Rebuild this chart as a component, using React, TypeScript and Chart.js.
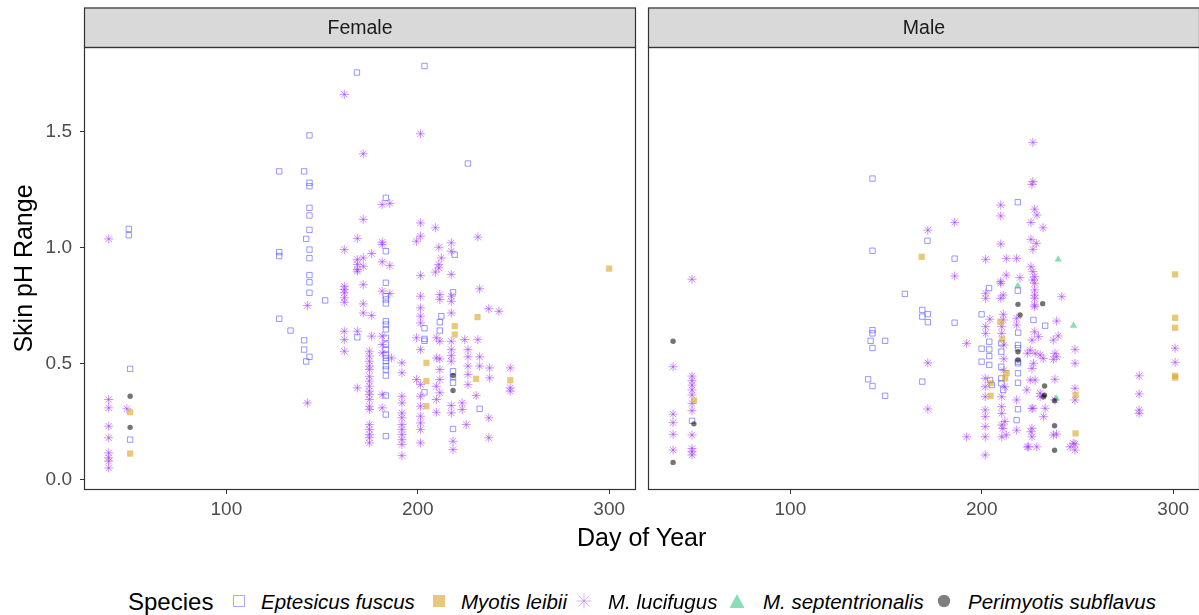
import React, { useEffect, useRef } from "react";
import { Chart, registerables } from "chart.js";

Chart.register(...registerables);

// ---------- axes / labels ----------
const X_TICKS = [100, 200, 300];
const Y_TICKS = [0, 0.5, 1.0, 1.5];
const X_MIN = 25.6;
const X_MAX = 314;
const Y_MIN = -0.045;
const Y_MAX = 1.864;
const PANELS = ["Female", "Male"];
const SPECIES = ["Eptesicus fuscus", "Myotis leibii", "M. lucifugus", "M. septentrionalis", "Perimyotis subflavus"];
const X_TITLE = "Day of Year";
const Y_TITLE = "Skin pH Range";
const LEGEND_TITLE = "Species";

type P = [number, number][]; // [day of year, skin pH range]

// ---------- Female ----------
const femaleFuscus: P = [
  [49, 1.08], [49, 1.053], [49.7, 0.477], [49.7, 0.172],
  [127.6, 1.328], [127.6, 0.98], [127.6, 0.963], [127.6, 0.693], [133.5, 0.642],
  [140.6, 1.328], [140.6, 0.6], [140.6, 0.56], [141.7, 1.037], [141.7, 0.509],
  [143.4, 1.483], [143.4, 1.279], [143.4, 1.264], [143.4, 1.171], [143.4, 1.138], [143.4, 1.076],
  [143.4, 0.991], [143.4, 0.954], [143.4, 0.881], [143.4, 0.85], [143.4, 0.805], [143.4, 0.529],
  [151.6, 0.772], [168.2, 1.754], [168.4, 0.613],
  [183.3, 1.214], [183.3, 0.984], [183.3, 0.848], [183.3, 0.79], [183.3, 0.776], [183.3, 0.759],
  [183.3, 0.682], [183.3, 0.668], [183.3, 0.647], [183.3, 0.611], [183.3, 0.582], [183.3, 0.56],
  [183.3, 0.539], [183.3, 0.524], [183.3, 0.51], [183.3, 0.489], [183.3, 0.474], [183.3, 0.448],
  [183.3, 0.362], [183.3, 0.28], [183.3, 0.187],
  [203.5, 1.782], [203.5, 0.652], [203.5, 0.606], [203.5, 0.598], [203.5, 0.376],
  [211.5, 0.678], [211.5, 0.642], [212.3, 0.704],
  [218.4, 0.807], [218.4, 0.467], [218.4, 0.443], [218.4, 0.417], [218.4, 0.218], [219.3, 0.969],
  [226.2, 1.362], [232.3, 0.305],
];
const femaleLeibii: P = [
  [49.7, 0.29], [49.7, 0.112], [204.5, 0.503], [204.5, 0.424], [204.5, 0.316], [219.3, 0.661],
  [219.3, 0.625], [230.4, 0.434], [231.2, 0.7], [248.3, 0.428], [300, 0.909],
];
const femaleLucifugus: P = [
  [38.5, 1.037], [38.5, 0.345], [38.5, 0.309], [38.5, 0.23], [38.5, 0.18], [38.5, 0.115], [38.5, 0.094],
  [38.5, 0.079], [38.5, 0.05], [48, 0.305],
  [142.3, 0.75], [142.3, 0.33],
  [161.6, 1.66], [161.6, 0.991], [161.6, 0.833], [161.6, 0.819], [161.6, 0.805], [161.6, 0.783],
  [161.6, 0.764], [161.6, 0.639], [161.6, 0.603], [161.6, 0.553],
  [168.4, 1.039], [168.4, 0.948], [168.4, 0.927], [168.4, 0.905], [168.4, 0.898], [168.4, 0.639], [168.4, 0.395],
  [171.5, 1.404], [171.5, 1.121], [171.5, 0.955], [171.5, 0.919], [171.5, 0.84], [171.5, 0.757], [171.5, 0.718],
  [174.7, 0.553], [174.7, 0.532], [174.7, 0.51], [174.7, 0.489], [174.7, 0.474], [174.7, 0.445],
  [174.7, 0.424], [174.7, 0.402], [174.7, 0.381], [174.7, 0.366], [174.7, 0.345], [174.7, 0.316],
  [174.7, 0.302], [174.7, 0.237], [174.7, 0.216], [174.7, 0.194], [174.7, 0.18], [174.7, 0.158],
  [175.9, 0.974], [175.9, 0.707], [175.9, 0.618],
  [181.4, 1.185], [181.4, 1.023], [181.4, 1.013], [181.4, 0.938], [181.4, 0.812], [181.4, 0.618],
  [181.4, 0.582], [181.4, 0.546], [181.4, 0.366], [181.4, 0.309],
  [185.4, 1.19], [185.4, 0.922], [185.4, 0.802], [186.3, 0.524],
  [191.7, 0.503], [191.7, 0.46], [191.7, 0.359], [191.7, 0.33], [191.7, 0.287], [191.7, 0.266],
  [191.7, 0.237], [191.7, 0.216], [191.7, 0.194], [191.7, 0.172], [191.7, 0.151], [191.7, 0.103],
  [199.3, 1.027], [199.3, 0.611], [199.3, 0.431],
  [201.4, 1.49], [201.4, 1.106], [201.4, 1.049], [201.4, 0.879], [201.4, 0.79], [201.4, 0.74],
  [201.4, 0.704], [201.4, 0.675], [201.4, 0.56], [201.4, 0.409], [201.4, 0.359], [201.4, 0.316],
  [201.4, 0.273], [201.4, 0.244], [201.4, 0.216], [201.4, 0.158],
  [209.2, 1.085], [209.2, 0.894], [209.7, 0.611], [209.7, 0.524], [209.7, 0.402], [209.7, 0.345], [209.7, 0.29],
  [211, 1.001], [211, 0.927], [211, 0.912],
  [211.5, 0.797], [211.5, 0.776], [211.5, 0.596], [211.5, 0.52], [211.5, 0.474], [211.5, 0.431], [211.5, 0.374],
  [212.3, 0.955],
  [217.5, 1.02], [217.5, 0.984], [217.5, 0.884], [217.5, 0.79], [217.5, 0.768], [217.5, 0.718],
  [217.5, 0.596], [217.5, 0.56], [217.5, 0.534], [217.5, 0.51], [217.5, 0.319], [217.5, 0.287],
  [218.4, 0.165], [218.4, 0.129],
  [223.2, 0.33], [223.2, 0.302], [224.5, 0.603], [225.3, 0.237],
  [226.2, 0.56], [226.2, 0.529], [226.2, 0.489], [226.2, 0.453], [226.2, 0.409],
  [230.5, 0.362], [231.4, 1.045], [231.4, 0.603], [232.3, 0.822], [232.3, 0.529], [232.3, 0.489],
  [237.1, 0.736], [237.1, 0.266], [237.1, 0.18], [237.5, 0.481], [237.5, 0.438], [242.4, 0.725],
  [248.3, 0.481], [248.3, 0.395], [248.3, 0.381],
];
const femaleSeptentrionalis: P = [];
const femaleSubflavus: P = [[49.7, 0.359], [49.7, 0.225], [218.4, 0.448], [218.4, 0.384]];

// ---------- Male ----------
const maleFuscus: P = [
  [48.6, 0.253], [140.6, 0.432], [141.9, 0.598], [142.9, 1.297], [142.9, 0.986], [142.9, 0.644],
  [142.9, 0.63], [142.9, 0.567], [142.9, 0.403], [149.5, 0.598], [149.5, 0.361], [159.8, 0.8],
  [168.9, 0.731], [168.9, 0.702], [168.9, 0.422], [171.8, 0.713], [171.8, 0.678], [171.6, 1.029],
  [185.8, 0.952], [185.8, 0.676],
  [199.9, 0.712], [199.9, 0.564], [199.9, 0.508], [203.8, 0.825], [203.9, 0.594], [203.9, 0.561],
  [203.9, 0.532], [203.9, 0.494], [204.3, 0.429], [205.2, 0.407],
  [210.2, 0.587], [210.2, 0.551], [210.2, 0.486], [210.2, 0.436], [210.2, 0.415], [211.2, 0.386],
  [218.8, 1.195], [218.8, 0.814], [219, 0.633], [218.9, 0.58], [218.9, 0.566], [218.9, 0.508],
  [218.9, 0.501], [218.9, 0.458], [218.9, 0.417], [218.9, 0.303], [218.2, 0.256],
  [227, 0.688], [233.1, 0.663],
];
const maleLeibii: P = [
  [49.6, 0.34], [168.6, 0.96], [204.6, 0.415], [204.6, 0.361], [209.7, 0.68], [210.7, 0.604],
  [212.2, 0.436], [213, 0.46], [249, 0.364], [249, 0.199],
  [301, 0.884], [301, 0.697], [301, 0.654], [301, 0.447], [301, 0.439],
];
const maleLucifugus: P = [
  [38.7, 0.486], [38.7, 0.282], [38.7, 0.245], [38.7, 0.195], [38.7, 0.127],
  [48.6, 0.863], [48.6, 0.446], [48.6, 0.426], [48.6, 0.407], [48.6, 0.386], [48.6, 0.364],
  [48.6, 0.328], [48.6, 0.297], [48.6, 0.192], [48.6, 0.134], [48.6, 0.12], [48.6, 0.106],
  [171.8, 1.075], [171.8, 0.503], [171.8, 0.304], [185.8, 1.108], [185.8, 0.877],
  [192.1, 0.587], [192.1, 0.184],
  [202, 0.949], [202, 0.803], [202, 0.781], [202, 0.659], [202, 0.63], [204.2, 0.691],
  [201.8, 0.436], [201.8, 0.4], [201.8, 0.357], [201.8, 0.3], [201.8, 0.271], [201.8, 0.228],
  [201.8, 0.184], [201.8, 0.106],
  [209.9, 1.183], [209.9, 1.136], [209.9, 1.015], [209.9, 0.853], [209.9, 0.846], [209.9, 0.781],
  [210.4, 0.659], [210.4, 0.63], [210.4, 0.357], [210.4, 0.314], [210.4, 0.285], [210.4, 0.235], [210.4, 0.184],
  [211.2, 0.795], [211.2, 0.712], [211.2, 0.688], [211.5, 0.58], [211.5, 0.52], [211.5, 0.47],
  [212, 0.4], [212, 0.25], [211, 0.22],
  [212.8, 0.953], [212.8, 0.881], [212.8, 0.192],
  [218.2, 0.953], [218.2, 0.695], [218.2, 0.666], [218.2, 0.343], [218.2, 0.213], [219.9, 0.87],
  [223.8, 0.544], [223.8, 0.141], [225.7, 1.108], [225.7, 1.035], [225.7, 0.917], [225.7, 0.206],
  [226.7, 1.453], [226.7, 1.284], [226.2, 1.272], [226.7, 0.992], [226.7, 0.896], [226.7, 0.86], [226.7, 0.307],
  [227.6, 1.165], [228.8, 1.14], [228.5, 1.018], [227.6, 0.874], [227.6, 0.846], [227.6, 0.817],
  [227.6, 0.795], [227.6, 0.781], [227.6, 0.752], [227.6, 0.745], [227.6, 0.637], [226.2, 0.601],
  [225.3, 0.558], [227.9, 0.544], [227, 0.501], [226.2, 0.479], [225.3, 0.429], [227.9, 0.429],
  [223.5, 0.386], [226.2, 0.307], [226.2, 0.221], [226.2, 0.184], [224.4, 0.141], [228.7, 0.141],
  [229.6, 0.616], [230.5, 0.537], [230.5, 0.372], [230.5, 0.357],
  [232, 1.085], [232.1, 0.522], [232.3, 0.271], [233.1, 0.307],
  [239.1, 0.683], [239.9, 0.619], [237.4, 0.601], [238.2, 0.544], [239.1, 0.529], [237.4, 0.518],
  [238.2, 0.432], [238.2, 0.343], [239, 0.196], [237.4, 0.192],
  [241.8, 0.788],
  [248.7, 0.561], [248.7, 0.501], [248.7, 0.393], [248.7, 0.343], [247.8, 0.156], [248.7, 0.153],
  [246.1, 0.141], [248.7, 0.127],
  [282.2, 0.447], [282.2, 0.369], [282.2, 0.3], [282.2, 0.285],
  [301, 0.566], [301, 0.505],
];
const maleSeptentrionalis: P = [[218.8, 0.834], [238.9, 0.35], [239.9, 0.949], [247.9, 0.663]];
const maleSubflavus: P = [
  [38.7, 0.596], [38.7, 0.074], [49.6, 0.24], [218.9, 0.755], [220, 0.709], [218.9, 0.551],
  [218.9, 0.515], [231.8, 0.758], [232.8, 0.403], [232.8, 0.364], [232.3, 0.357],
  [238, 0.34], [238, 0.232], [238, 0.126],
];

const FEMALE_GROUPS = [femaleFuscus, femaleLeibii, femaleLucifugus, femaleSeptentrionalis, femaleSubflavus];
const MALE_GROUPS = [maleFuscus, maleLeibii, maleLucifugus, maleSeptentrionalis, maleSubflavus];

// ---------- styles ----------
const FONT = '"Liberation Sans", Arial, sans-serif';
const STYLES = [
  { pointStyle: "rect", radius: 3.8, bg: "rgba(0,0,0,0)", border: "rgba(70,70,255,0.55)", bw: 1, order: 2 },
  { pointStyle: "rect", radius: 4.4, bg: "rgba(218,165,32,0.6)", border: "rgba(0,0,0,0)", bw: 0, order: 1 },
  { pointStyle: "star", radius: 4.5, bg: "rgba(0,0,0,0)", border: "rgba(165,55,255,0.55)", bw: 1, order: 4 },
  { pointStyle: "triangle", radius: 4.2, bg: "rgba(60,200,130,0.6)", border: "rgba(0,0,0,0)", bw: 0, order: 3 },
  { pointStyle: "circle", radius: 2.7, bg: "rgba(0,0,0,0.55)", border: "rgba(0,0,0,0)", bw: 0, order: 0 },
];

const panelPlugin = {
  id: "panelFrame",
  afterDraw(chart: any, _args: any, opts: any) {
    const { ctx, chartArea: a } = chart;
    const st = opts.stripTop;
    ctx.save();
    ctx.fillStyle = "#D9D9D9";
    ctx.fillRect(a.left, st, a.right - a.left, a.top - st);
    ctx.strokeStyle = "#333333";
    ctx.lineWidth = 1.2;
    ctx.strokeRect(a.left + 0.5, st + 0.5, a.right - a.left - 1, a.top - st);
    ctx.strokeRect(a.left + 0.5, a.top + 0.5, a.right - a.left - 1, a.bottom - a.top - 1);
    ctx.fillStyle = "#1A1A1A";
    ctx.font = `19.5px ${FONT}`;
    ctx.textAlign = "center";
    ctx.textBaseline = "middle";
    ctx.fillText(opts.label, (a.left + a.right) / 2, (st + a.top) / 2 + 1);
    ctx.restore();
  },
};

function makeConfig(groups: P[], label: string, showY: boolean): any {
  const datasets = SPECIES.map((name, i) => ({
    label: name,
    data: groups[i].map(([x, y]) => ({ x, y })),
    pointStyle: STYLES[i].pointStyle,
    pointRadius: STYLES[i].radius,
    pointBackgroundColor: STYLES[i].bg,
    pointBorderColor: STYLES[i].border,
    pointBorderWidth: STYLES[i].bw,
    order: STYLES[i].order,
    showLine: false,
  }));
  const tickGrid = { display: true, drawOnChartArea: false, drawTicks: true, tickLength: 4, color: "#333333", lineWidth: 1 };
  return {
    type: "scatter",
    data: { datasets },
    plugins: [panelPlugin],
    options: {
      animation: false,
      responsive: false,
      events: [],
      layout: { padding: { top: 47, right: 10, left: 0, bottom: 0 } },
      plugins: {
        legend: { display: false },
        tooltip: { enabled: false },
        panelFrame: { label, stripTop: 7.5 },
      },
      scales: {
        x: {
          type: "linear",
          min: X_MIN,
          max: X_MAX,
          afterBuildTicks: (s: any) => { s.ticks = X_TICKS.map((v) => ({ value: v })); },
          afterFit: (s: any) => { s.height = 70; },
          grid: tickGrid,
          border: { display: false },
          ticks: { color: "#4D4D4D", font: { family: FONT, size: 19 }, padding: 4, maxRotation: 0, callback: (v: any) => String(v) },
        },
        y: {
          type: "linear",
          display: showY,
          min: Y_MIN,
          max: Y_MAX,
          afterBuildTicks: (s: any) => { s.ticks = Y_TICKS.map((v) => ({ value: v })); },
          afterFit: (s: any) => { s.width = 84; },
          grid: tickGrid,
          border: { display: false },
          ticks: { color: "#4D4D4D", font: { family: FONT, size: 19 }, padding: 8, callback: (v: any) => Number(v).toFixed(1) },
          title: { display: true, text: Y_TITLE, color: "#000000", font: { family: FONT, size: 25 }, padding: { top: 10, bottom: 0 } },
        },
      },
    },
  };
}

function LegendSymbol({ i }: { i: number }) {
  if (i === 0)
    return (
      <svg width="12" height="12"><rect x="0.5" y="0.5" width="11" height="11" fill="none" stroke="rgba(70,70,255,0.45)" strokeWidth="1" /></svg>
    );
  if (i === 1)
    return <svg width="12" height="12"><rect x="0" y="0" width="12" height="12" fill="rgba(218,165,32,0.6)" /></svg>;
  if (i === 2)
    return (
      <svg width="16" height="16" stroke="rgba(165,60,255,0.4)" strokeWidth="1">
        <line x1="8" y1="0.5" x2="8" y2="15.5" />
        <line x1="0.5" y1="8" x2="15.5" y2="8" />
        <line x1="2.7" y1="2.7" x2="13.3" y2="13.3" />
        <line x1="2.7" y1="13.3" x2="13.3" y2="2.7" />
      </svg>
    );
  if (i === 3)
    return <svg width="15" height="14"><polygon points="7.5,0 15,14 0,14" fill="rgba(60,200,130,0.6)" /></svg>;
  return <svg width="13" height="13"><circle cx="6.5" cy="6.5" r="6.2" fill="rgba(0,0,0,0.5)" /></svg>;
}

const LEGEND_SYMBOL_X = [238.5, 439, 584, 737, 944];
const LEGEND_TEXT_X = [261, 461, 608, 763, 968];

export default function App() {
  const fRef = useRef<HTMLCanvasElement>(null);
  const mRef = useRef<HTMLCanvasElement>(null);

  useEffect(() => {
    const f = new Chart(fRef.current as HTMLCanvasElement, makeConfig(FEMALE_GROUPS, PANELS[0], true));
    const m = new Chart(mRef.current as HTMLCanvasElement, makeConfig(MALE_GROUPS, PANELS[1], false));
    return () => {
      f.destroy();
      m.destroy();
    };
  }, []);

  const legendY = 601.7;
  return (
    <div style={{ position: "absolute", left: 0, top: 0, width: 1199, height: 615, overflow: "hidden", background: "#fff", fontFamily: FONT }}>
      <canvas ref={fRef} width={646} height={560} style={{ position: "absolute", left: 0, top: 0, width: 646, height: 560 }} />
      <canvas ref={mRef} width={646} height={560} style={{ position: "absolute", left: 564, top: 0, width: 646, height: 560 }} />
      <div style={{ position: "absolute", left: 641.7, top: 537 - 0.49 * 25, transform: "translateX(-50%)", fontSize: 25, lineHeight: "25px", whiteSpace: "nowrap", color: "#000" }}>
        {X_TITLE}
      </div>
      <div style={{ position: "absolute", left: 128, top: legendY - 0.49 * 24, fontSize: 24, lineHeight: "24px", whiteSpace: "nowrap", color: "#000" }}>
        {LEGEND_TITLE}
      </div>
      {SPECIES.map((name, i) => (
        <React.Fragment key={name}>
          <div style={{ position: "absolute", left: LEGEND_SYMBOL_X[i], top: legendY - 1, transform: "translate(-50%, -50%)", lineHeight: 0 }}>
            <LegendSymbol i={i} />
          </div>
          <div style={{ position: "absolute", left: LEGEND_TEXT_X[i], top: legendY - 0.49 * 20.5, fontSize: 20.5, lineHeight: "20.5px", fontStyle: "italic", whiteSpace: "nowrap", color: "#000" }}>
            {name}
          </div>
        </React.Fragment>
      ))}
    </div>
  );
}
